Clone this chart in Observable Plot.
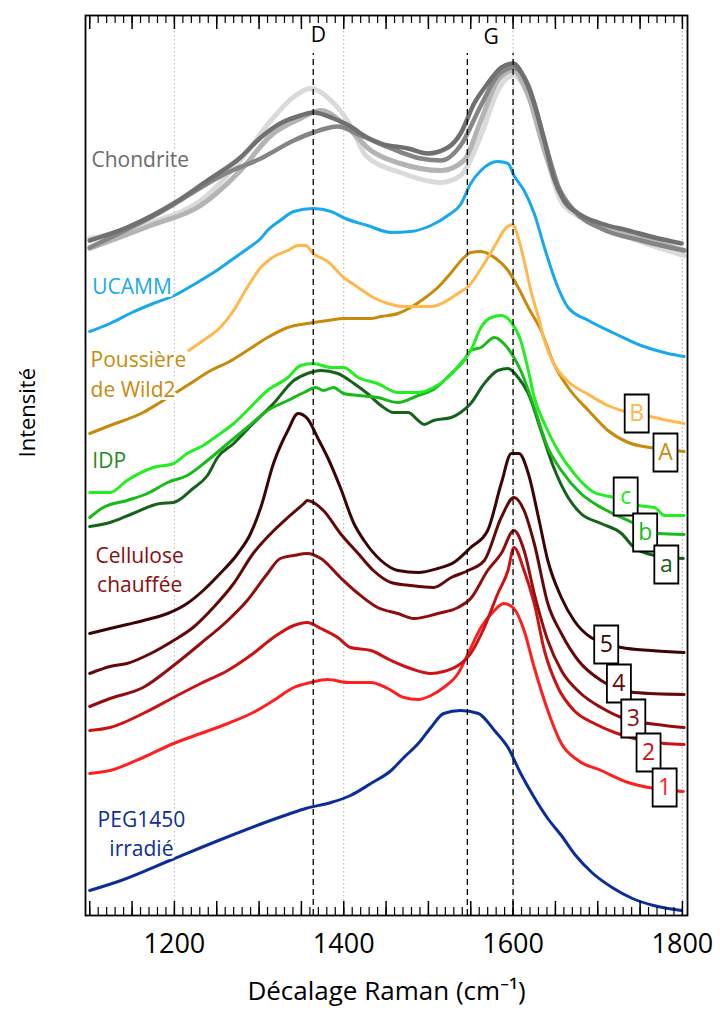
<!DOCTYPE html>
<html><head><meta charset="utf-8">
<script src="https://cdn.jsdelivr.net/npm/d3@7"></script>
<script src="https://cdn.jsdelivr.net/npm/@observablehq/plot@0.6"></script>
<style>body{margin:0;background:#fff}</style>
</head><body><div id="chart"></div>
<script>
// Raman shift (cm-1), intensity (a.u., stacked offsets as plotted)
const chondriteA = [[1100,677],[1172,693],[1231,715],[1278,755],[1314,795],[1343,820],[1361,827],[1385,815],[1408,790],[1426,760],[1467,743],[1515,733],[1538,740],[1562,780],[1582,825],[1600,840],[1618,820],[1637,765],[1660,710],[1704,690],[1802,660]];
const chondriteB = [[1100,667],[1172,690],[1231,710],[1278,745],[1314,780],[1349,797],[1373,805],[1402,790],[1432,765],[1467,752],[1515,745],[1542,755],[1562,795],[1582,835],[1600,845],[1618,820],[1637,765],[1657,720],[1680,700],[1728,685],[1802,665]];
const chondriteC = [[1100,668],[1183,703],[1263,743],[1302,757],[1341,775],[1364,783],[1393,789],[1420,780],[1456,767],[1491,757],[1515,755],[1538,770],[1562,810],[1582,840],[1600,848],[1618,830],[1637,775],[1653,730],[1672,705],[1704,687],[1751,675],[1802,665]];
const chondriteD = [[1100,675],[1144,688],[1199,712],[1239,735],[1278,758],[1302,778],[1325,792],[1349,800],[1364,803],[1388,797],[1412,787],[1420,782],[1444,772],[1476,767],[1499,762],[1523,768],[1538,782],[1554,812],[1570,832],[1586,848],[1600,852],[1613,838],[1625,812],[1637,775],[1648,738],[1660,715],[1677,702],[1704,692],[1736,685],[1767,678],[1799,672]];
const ucamm = [[1100,584],[1124,592],[1150,603],[1175,612],[1200,620],[1225,632],[1250,645],[1275,660],[1290,669],[1302,677],[1310,685],[1325,695],[1341,704],[1364,707],[1385,704],[1402,697],[1428,690],[1456,683],[1479,684],[1503,690],[1523,700],[1538,711],[1550,732],[1562,745],[1582,754],[1594,752],[1601,740],[1613,725],[1625,702],[1637,668],[1653,628],[1665,608],[1689,595],[1720,582],[1751,570],[1783,562],[1802,559]];
const wild2B = [[1217,565],[1234,575],[1254,588],[1270,605],[1286,628],[1302,648],[1314,657],[1334,665],[1346,670],[1355,670],[1364,662],[1381,654],[1400,638],[1417,628],[1435,618],[1452,612],[1471,609],[1503,609],[1518,613],[1535,622],[1547,629],[1566,652],[1582,675],[1589,685],[1600,691],[1606,678],[1613,655],[1621,625],[1630,598],[1637,575],[1648,552],[1665,534],[1689,521],[1712,510],[1728,505],[1748,501],[1767,498],[1783,495],[1802,492]];
const wild2A = [[1100,482],[1124,490],[1163,503],[1183,513],[1217,531],[1243,545],[1263,553],[1286,565],[1310,578],[1334,588],[1357,592],[1381,595],[1400,597],[1432,597],[1444,599],[1464,602],[1479,608],[1495,617],[1511,628],[1527,643],[1542,658],[1550,663],[1562,664],[1578,658],[1594,645],[1606,628],[1618,608],[1633,585],[1648,552],[1665,528],[1689,505],[1712,485],[1736,473],[1761,468],[1781,466],[1802,464]];
const idpC = [[1100,423],[1124,423],[1144,435],[1175,448],[1199,452],[1215,462],[1234,470],[1251,480],[1270,492],[1286,505],[1310,525],[1334,538],[1349,550],[1364,552],[1385,548],[1400,548],[1417,538],[1440,532],[1464,523],[1488,523],[1506,528],[1523,538],[1538,552],[1550,565],[1562,588],[1574,598],[1586,600],[1598,593],[1609,575],[1618,545],[1625,518],[1637,492],[1653,465],[1672,442],[1696,423],[1720,418],[1748,410],[1767,408],[1779,400],[1802,400]];
const idpB = [[1100,398],[1116,408],[1144,415],[1168,422],[1192,433],[1215,440],[1239,455],[1263,472],[1286,488],[1310,505],[1334,515],[1353,523],[1367,528],[1376,525],[1388,528],[1400,522],[1417,520],[1440,518],[1464,513],[1488,520],[1506,526],[1527,542],[1542,555],[1550,565],[1562,568],[1578,578],[1589,572],[1601,558],[1609,545],[1625,508],[1641,468],[1657,445],[1680,422],[1704,408],[1728,398],[1743,392],[1772,382],[1802,381]];
const idpA = [[1100,389],[1124,393],[1151,402],[1183,412],[1199,413],[1222,427],[1239,440],[1251,458],[1270,472],[1293,492],[1317,512],[1341,535],[1357,542],[1373,545],[1393,542],[1412,532],[1428,522],[1444,510],[1459,503],[1476,503],[1488,495],[1495,491],[1506,495],[1527,498],[1538,503],[1550,512],[1566,532],[1582,545],[1594,547],[1606,538],[1618,522],[1633,485],[1648,448],[1665,418],[1680,402],[1704,392],[1728,382],[1743,368],[1767,360],[1801,357]];
const cell5 = [[1100,282],[1124,287],[1144,291],[1168,296],[1192,302],[1215,312],[1234,325],[1254,342],[1275,362],[1290,382],[1302,408],[1317,452],[1334,485],[1346,502],[1357,497],[1369,478],[1381,458],[1396,428],[1412,392],[1424,375],[1444,355],[1464,345],[1488,343],[1511,347],[1530,353],[1550,368],[1570,385],[1586,432],[1598,462],[1607,462],[1618,442],[1630,398],[1641,355],[1657,318],[1672,295],[1692,278],[1728,268],[1763,265],[1802,263]];
const cell4 = [[1100,242],[1124,249],[1144,252],[1172,262],[1199,275],[1222,288],[1246,308],[1270,332],[1293,362],[1314,382],[1334,398],[1353,412],[1357,415],[1376,405],[1396,382],[1417,362],[1435,345],[1456,333],[1479,330],[1506,328],[1527,338],[1547,345],[1566,355],[1586,398],[1601,418],[1613,405],[1625,372],[1641,312],[1657,282],[1677,255],[1704,235],[1743,223],[1802,221]];
const cell3 = [[1100,209],[1124,217],[1163,228],[1199,250],[1231,272],[1263,295],[1286,315],[1310,342],[1325,357],[1341,360],[1357,362],[1373,357],[1396,338],[1417,322],[1440,308],[1464,302],[1483,297],[1511,302],[1535,308],[1550,317],[1570,345],[1586,362],[1601,385],[1613,365],[1625,322],[1641,275],[1657,245],[1680,222],[1704,208],[1728,198],[1779,190],[1802,188]];
const cell2 = [[1100,185],[1124,188],[1163,202],[1199,218],[1231,232],[1263,245],[1293,262],[1317,278],[1341,290],[1357,293],[1373,287],[1393,278],[1408,268],[1432,265],[1456,255],[1479,247],[1503,242],[1518,244],[1535,250],[1550,262],[1566,288],[1582,322],[1594,345],[1601,368],[1613,345],[1625,312],[1637,265],[1653,228],[1672,205],[1696,192],[1720,183],[1743,177],[1779,172],[1802,171]];
const cell1 = [[1100,142],[1124,145],[1163,158],[1199,172],[1231,182],[1263,192],[1293,203],[1317,215],[1341,228],[1361,233],[1381,236],[1405,233],[1432,233],[1452,227],[1471,218],[1488,216],[1503,220],[1518,228],[1535,242],[1547,262],[1562,288],[1578,305],[1589,312],[1601,307],[1613,285],[1625,248],[1641,205],[1657,172],[1677,155],[1704,145],[1736,133],[1760,128],[1801,124]];
const peg = [[1100,25],[1137,35],[1200,57],[1258,77],[1307,93],[1337,102],[1355,107],[1385,113],[1408,120],[1432,132],[1456,145],[1471,158],[1488,172],[1503,188],[1518,202],[1538,205],[1559,202],[1578,185],[1594,168],[1609,142],[1625,118],[1641,97],[1657,80],[1674,60],[1693,43],[1717,28],[1741,17],[1766,10],[1799,5]];

const bandLines = [1364, 1546, 1600];
const bandNames = [{t:"D", wn:1370, v:880}, {t:"G", wn:1574, v:878}];
const gridLines = [1200, 1400, 1600, 1800];
const tickLabels = [1200, 1400, 1600, 1800];
const minorTicks = d3.range(1100, 1801, 10);
const majorTicks = d3.range(1100, 1801, 50);

const series = [
  {data: chondriteA, color: "#dadada", w: 5},
  {data: chondriteB, color: "#b4b4b4", w: 5},
  {data: chondriteC, color: "#858585", w: 4.5},
  {data: chondriteD, color: "#707070", w: 4.5},
  {data: ucamm, color: "#18a8ee", w: 3},
  {data: wild2A, color: "#c98a0b", w: 3},
  {data: wild2B, color: "#ffb84d", w: 3},
  {data: idpA, color: "#16621a", w: 3},
  {data: idpB, color: "#17bb17", w: 3},
  {data: idpC, color: "#22ee22", w: 3},
  {data: cell1, color: "#ff1f1f", w: 3},
  {data: cell2, color: "#cc1212", w: 3},
  {data: cell3, color: "#920d0d", w: 3},
  {data: cell4, color: "#650808", w: 3},
  {data: cell5, color: "#3c0404", w: 3},
  {data: peg, color: "#0b2d9a", w: 3}
];

const leftLabels = [
  {t:"Chondrite", wn:1102, v:758, c:"#6b6b6b"},
  {t:"UCAMM", wn:1103, v:631, c:"#18a8ee"},
  {t:"Poussière\nde Wild2", wn:1101, v:543, c:"#c98a0b"},
  {t:"IDP", wn:1103, v:457, c:"#1e8a1e"}
];
const centerLabels = [
  {t:"Cellulose\nchauffée", wn:1159, v:347, c:"#8a0d0d"},
  {t:"PEG1450\nirradié", wn:1161, v:83, c:"#0b2d9a"}
];
const boxLabels = [
  {t:"B", wn:1746, v:502, c:"#ffb84d"},
  {t:"A", wn:1780, v:463, c:"#c98a0b"},
  {t:"c", wn:1733, v:419, c:"#22ee22"},
  {t:"b", wn:1756, v:383, c:"#17bb17"},
  {t:"a", wn:1781, v:351, c:"#16621a"},
  {t:"5", wn:1710, v:271, c:"#3c0404"},
  {t:"4", wn:1725, v:232, c:"#650808"},
  {t:"3", wn:1742, v:197, c:"#920d0d"},
  {t:"2", wn:1760, v:163, c:"#cc1212"},
  {t:"1", wn:1779, v:128, c:"#ff1f1f"}
];

const boxSymbol = {draw(ctx) { ctx.moveTo(-12,-19); ctx.lineTo(12,-19); ctx.lineTo(12,19); ctx.lineTo(-12,19); ctx.closePath(); }};
const font = "'Open Sans', 'Noto Sans', sans-serif";

const marks = [
  Plot.ruleX(gridLines, {stroke: "#b0b0b0", strokeDasharray: "1.5,2.5", strokeWidth: 1}),
  ...series.map(s => Plot.line(s.data, {x: d => d[0], y: d => d[1], stroke: s.color, strokeWidth: s.w, curve: "monotone-x", strokeLinejoin: "round"})),
  Plot.ruleX(bandLines, {y1: 0, y2: 862, stroke: "black", strokeWidth: 1.3, strokeDasharray: "6,4"}),
  Plot.text(leftLabels, {x: "wn", y: "v", text: "t", fill: "c", textAnchor: "start", lineAnchor: "middle", lineHeight: 1.4, fontSize: 21, stroke: "white", strokeWidth: 6}),
  Plot.text(centerLabels, {x: "wn", y: "v", text: "t", fill: "c", textAnchor: "middle", lineAnchor: "middle", lineHeight: 1.35, fontSize: 21, stroke: "white", strokeWidth: 6}),
  Plot.dot(boxLabels, {x: "wn", y: "v", symbol: boxSymbol, fill: "white", stroke: "black", strokeWidth: 1.8}),
  Plot.text(boxLabels, {x: "wn", y: "v", text: "t", fill: "c", fontSize: 23, lineAnchor: "middle"}),
  Plot.text(bandNames, {x: "wn", y: "v", text: "t", fill: "black", fontSize: 21, lineAnchor: "middle"}),
  Plot.ruleX(minorTicks, {y1: 0, y2: 8, stroke: "black", strokeWidth: 1.2}),
  Plot.ruleX(majorTicks, {y1: 0, y2: 14, stroke: "black", strokeWidth: 1.5}),
  Plot.ruleX(minorTicks, {y1: 892, y2: 900, stroke: "black", strokeWidth: 1.2}),
  Plot.ruleX(majorTicks, {y1: 886, y2: 900, stroke: "black", strokeWidth: 1.5}),
  Plot.frame({stroke: "black", strokeWidth: 1.8}),
  Plot.axisX(tickLabels, {anchor: "bottom", tickSize: 0, tickPadding: 18, fontSize: 27, tickFormat: d => String(d), label: null}),
  Plot.text(["Décalage Raman (cm⁻¹)"], {frameAnchor: "bottom", dy: 84, fontSize: 26, fill: "black"}),
  Plot.text(["Intensité"], {frameAnchor: "left", dx: -58, dy: -8, rotate: -90, fontSize: 22, fill: "black"})
];

const chart = Plot.plot({
  width: 720, height: 1016,
  marginLeft: 85, marginRight: 33, marginTop: 15, marginBottom: 101,
  style: {fontFamily: font, background: "white", color: "black"},
  x: {domain: [1095, 1806], axis: null},
  y: {domain: [0, 900], axis: null},
  marks
});
document.getElementById("chart").appendChild(chart);
</script>
</body></html>
